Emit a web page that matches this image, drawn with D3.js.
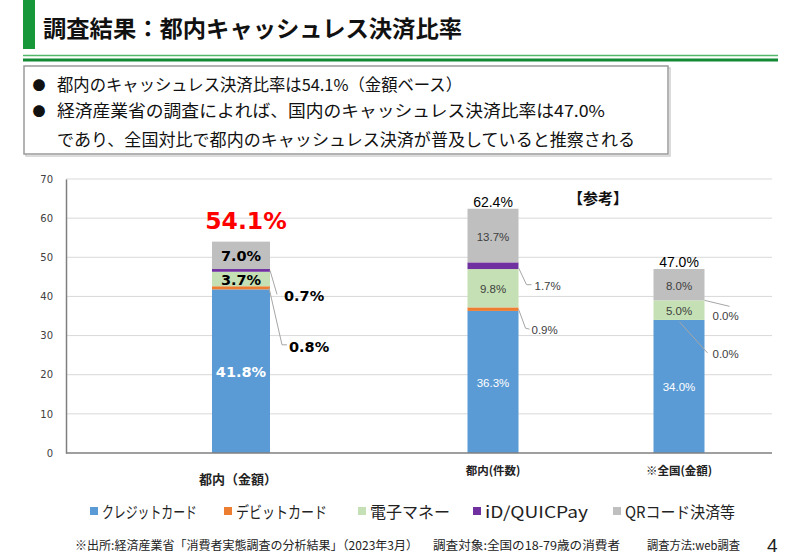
<!DOCTYPE html>
<html><head><meta charset="utf-8">
<script src="https://cdn.jsdelivr.net/npm/d3@7"></script>
<style>
html,body{margin:0;padding:0;background:#fff;}
svg{display:block;}
</style></head>
<body><svg id="c" width="799" height="554"></svg>
<script>
// ---- data ----
const categories = ["都内（金額）", "都内(件数)", "※全国(金額)"];
const seriesNames = ["クレジットカード", "デビットカード", "電子マネー", "iD/QUICPay", "QRコード決済等"];
const credit = [41.8, 36.3, 34.0];
const debit  = [0.8, 0.9, 0.0];
const emoney = [3.7, 9.8, 5.0];
const idq    = [0.7, 1.7, 0.0];
const qr     = [7.0, 13.7, 8.0];
const totals = [54.1, 62.4, 47.0];
const yTicks = [0, 10, 20, 30, 40, 50, 60, 70];
const colors = ["#5B9BD5", "#ED7D31", "#C5E0B4", "#7030A0", "#BFBFBF"];
const titleText = "調査結果：都内キャッシュレス決済比率";
const bullets = ["都内のキャッシュレス決済比率は54.1%（金額ベース）",
                 "経済産業省の調査によれば、国内のキャッシュレス決済比率は47.0%",
                 "であり、全国対比で都内のキャッシュレス決済が普及していると推察される"];
const refLabel = "【参考】";
const footer = ["※出所:経済産業省「消費者実態調査の分析結果」（2023年3月）", "調査対象:全国の18-79歳の消費者", "調査方法:web調査"];
const pageNo = "4";

const svg = d3.select("#c");
const JP = "'Noto Sans CJK JP','Noto Sans',sans-serif";

// ---- header ----
svg.append("rect").attr("x", 23).attr("y", 0).attr("width", 12).attr("height", 49).attr("fill", "#17963A");
svg.append("text").attr("x", 43).attr("y", 37).text(titleText)
  .attr("font-family", JP).attr("font-weight", "bold").attr("font-size", 23)
  .attr("textLength", 419).attr("lengthAdjust", "spacingAndGlyphs").attr("fill", "#111");
svg.append("line").attr("x1", 23).attr("x2", 778).attr("y1", 55.5).attr("y2", 55.5).attr("stroke", "#52B76A").attr("stroke-width", 1.5);
svg.append("line").attr("x1", 23).attr("x2", 778).attr("y1", 60).attr("y2", 60).attr("stroke", "#128A34").attr("stroke-width", 3);

// ---- bullet box ----
svg.append("rect").attr("x", 26).attr("y", 68).attr("width", 644).attr("height", 88).attr("fill", "none").attr("stroke", "#D0D0D0").attr("stroke-width", 1.5);
svg.append("rect").attr("x", 24).attr("y", 66).attr("width", 644).attr("height", 88).attr("fill", "#fff").attr("stroke", "#9A9A9A").attr("stroke-width", 1.5);
const bulletY = [84, 110, 139];
const bulletW = [405, 548, 578];
bullets.forEach((t, i) => {
  if (i < 2) svg.append("text").attr("x", 39).attr("y", bulletY[i]).attr("text-anchor", "middle")
    .attr("dominant-baseline", "central").attr("font-size", 13).attr("font-family", JP).attr("fill", "#111").text("●");
  svg.append("text").attr("x", 57).attr("y", bulletY[i]).attr("dominant-baseline", "central")
    .attr("font-family", JP).attr("font-size", 16.5).attr("fill", "#111")
    .attr("textLength", bulletW[i]).attr("lengthAdjust", "spacingAndGlyphs").text(t);
});

// ---- chart ----
const y = d3.scaleLinear().domain([0, 70]).range([453, 179]);
const xMain = d3.scaleBand().domain([categories[0]]).range([66, 416]);
const xRef = d3.scaleBand().domain(categories.slice(1)).range([400, 772]);
const cx = i => i === 0 ? xMain(categories[0]) + xMain.bandwidth() / 2 : xRef(categories[i]) + xRef.bandwidth() / 2;
const bw = i => i === 0 ? 58 : 51;

// grid
svg.append("g").selectAll("line").data(yTicks.filter(d => d > 0)).join("line")
  .attr("x1", 66).attr("x2", 772).attr("y1", d => y(d)).attr("y2", d => y(d))
  .attr("stroke", "#D9D9D9").attr("stroke-width", 1);
// y axis
const yAxis = svg.append("g").attr("transform", "translate(66,0)")
  .call(d3.axisLeft(y).tickValues(yTicks).tickSize(0).tickPadding(13));
yAxis.select(".domain").attr("stroke", "#7F7F7F").attr("stroke-width", 1.5);
yAxis.selectAll("text").attr("font-family", "'DejaVu Sans',sans-serif").attr("font-size", 10).attr("fill", "#404040");

// stacked data
const rows = categories.map((c, i) => ({cat: c, i, s0: credit[i], s1: debit[i], s2: emoney[i], s3: idq[i], s4: qr[i]}));
const keys = ["s0", "s1", "s2", "s3", "s4"];
const stacked = d3.stack().keys(keys)(rows);

svg.append("g").selectAll("g").data(stacked).join("g").attr("fill", (d, k) => colors[k])
  .selectAll("rect").data(d => d).join("rect")
  .attr("x", d => cx(d.data.i) - bw(d.data.i) / 2).attr("width", d => bw(d.data.i))
  .attr("y", d => y(d[1])).attr("height", d => y(d[0]) - y(d[1]));

// baseline
svg.append("line").attr("x1", 66).attr("x2", 772).attr("y1", 453).attr("y2", 453).attr("stroke", "#7F7F7F").attr("stroke-width", 1.5);

const fmt = v => v.toFixed(1) + "%";
const lab = svg.append("g");
// inside labels
const inside = [[0, 0], [0, 2], [0, 4], [1, 0], [1, 2], [1, 4], [2, 0], [2, 2], [2, 4]];
inside.forEach(([i, k]) => {
  const seg = stacked[k][i];
  const big = i === 0;
  lab.append("text").attr("x", cx(i)).attr("y", y((seg[0] + seg[1]) / 2) + 1)
    .attr("text-anchor", "middle").attr("dominant-baseline", "central")
    .attr("font-family", big ? "'DejaVu Sans',sans-serif" : "'Liberation Sans',Arial,sans-serif")
    .attr("font-weight", big ? "bold" : "normal").attr("font-size", big ? 14.5 : 11.5)
    .attr("fill", k === 0 ? "#fff" : (big ? "#000" : "#404040"))
    .text(fmt(seg[1] - seg[0]));
});
// leader labels (small segments)
const leaders = [
  {i: 0, k: 3, pts: [[0, 0], [7, 24]], lx: 14, ly: 26},
  {i: 0, k: 1, pts: [[-1, 0], [12, 57], [17, 57]], lx: 19, ly: 59},
  {i: 1, k: 3, pts: [[0, 2], [8, 19], [13, 19]], lx: 16, ly: 20},
  {i: 1, k: 1, pts: [[0, 0], [7, 19], [11, 20]], lx: 13, ly: 21},
  {i: 2, k: 3, pts: [[0, 0], [25, 6]], lx: 8, ly: 16},
  {i: 2, k: 1, pts: [[-25, 2], [3, 33]], lx: 8, ly: 34}
];
leaders.forEach(L => {
  const seg = stacked[L.k][L.i];
  const right = cx(L.i) + bw(L.i) / 2;
  const sy = y((seg[0] + seg[1]) / 2);
  lab.append("path").attr("d", d3.line()(L.pts.map(p => [right + p[0], sy + p[1]])))
    .attr("fill", "none").attr("stroke", "#A6A6A6").attr("stroke-width", 1);
  const big = L.i === 0;
  lab.append("text").attr("x", right + L.lx).attr("y", sy + L.ly).attr("dominant-baseline", "central")
    .attr("font-family", big ? "'DejaVu Sans',sans-serif" : "'Liberation Sans',Arial,sans-serif")
    .attr("font-weight", big ? "bold" : "normal").attr("font-size", big ? 14.5 : 11.5)
    .attr("fill", big ? "#000" : "#404040").text(fmt(seg[1] - seg[0]));
});
// totals
totals.forEach((t, i) => {
  const big = i === 0;
  lab.append("text").attr("x", cx(i) + (big ? 5 : 0)).attr("y", big ? y(t) - 20 : y(t) - 7)
    .attr("text-anchor", "middle").attr("dominant-baseline", "central")
    .attr("font-family", big ? "'DejaVu Sans',sans-serif" : "'Liberation Sans',Arial,sans-serif")
    .attr("font-weight", big ? "bold" : "normal").attr("font-size", big ? 23.5 : 14)
    .attr("fill", big ? "#FF0000" : "#000").text(fmt(t));
});
lab.append("text").attr("x", 598).attr("y", 197).attr("text-anchor", "middle").attr("dominant-baseline", "central")
  .attr("font-family", JP).attr("font-weight", "bold").attr("font-size", 15).attr("fill", "#111").text(refLabel);

// category labels
categories.forEach((c, i) => {
  svg.append("text").attr("x", i === 0 ? 238 : cx(i)).attr("y", i === 0 ? 478 : 470)
    .attr("text-anchor", "middle").attr("dominant-baseline", "central")
    .attr("font-family", JP).attr("font-weight", "bold").attr("font-size", i === 0 ? 13 : 11.5)
    .attr("fill", "#222").text(c);
});

// legend
const legX = [90, 224, 358, 473, 613];
const legW = [95, 91, 80, 103, 110];
const lg = svg.append("g");
seriesNames.forEach((n, k) => {
  lg.append("rect").attr("x", legX[k]).attr("y", 507).attr("width", 8).attr("height", 8).attr("fill", colors[k]);
  lg.append("text").attr("x", legX[k] + 12).attr("y", 511).attr("dominant-baseline", "central")
    .attr("font-family", JP).attr("font-size", 16).attr("fill", "#222")
    .attr("textLength", legW[k]).attr("lengthAdjust", "spacingAndGlyphs").text(n);
});

// footer
const fx = [75, 433, 647], fw = [343, 187, 93];
footer.forEach((t, i) => {
  svg.append("text").attr("x", fx[i]).attr("y", 544).attr("dominant-baseline", "central")
    .attr("font-family", JP).attr("font-size", 12).attr("fill", "#222")
    .attr("textLength", fw[i]).attr("lengthAdjust", "spacingAndGlyphs").text(t);
});
svg.append("text").attr("x", 767).attr("y", 545).attr("dominant-baseline", "central")
  .attr("font-family", "'Liberation Sans',Arial,sans-serif").attr("font-size", 19).attr("fill", "#222").text(pageNo);
</script></body></html>
